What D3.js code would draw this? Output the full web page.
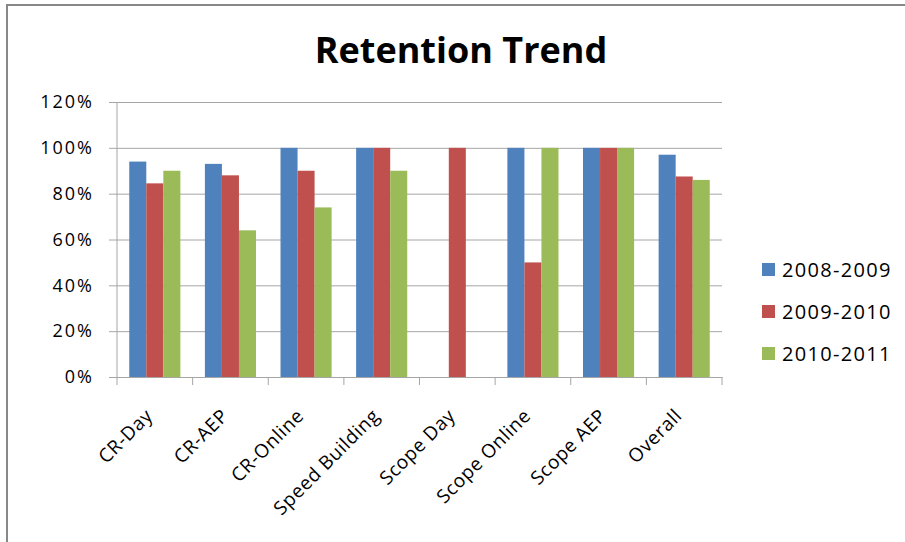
<!DOCTYPE html>
<html>
<head>
<meta charset="utf-8">
<script src="https://cdn.jsdelivr.net/npm/d3@7"></script>
<style>
  body { margin: 0; background: #fff; }
  svg { display: block; font-family: "Open Sans", sans-serif; }
</style>
</head>
<body>
<svg id="chart" width="905" height="542"></svg>
<script>
const categories = ["CR-Day", "CR-AEP", "CR-Online", "Speed Building", "Scope Day", "Scope Online", "Scope AEP", "Overall"];
const seriesNames = ["2008-2009", "2009-2010", "2010-2011"];
const values2008 = [0.94, 0.93, 1.00, 1.00, 0, 1.00, 1.00, 0.97];
const values2009 = [0.845, 0.88, 0.90, 1.00, 1.00, 0.50, 1.00, 0.875];
const values2010 = [0.90, 0.64, 0.74, 0.90, 0, 1.00, 1.00, 0.86];
const yTicks = [0, 0.2, 0.4, 0.6, 0.8, 1.0, 1.2];
const colors = ["#4F81BD", "#C0504D", "#9BBB59"];

const seriesValues = [values2008, values2009, values2010];
const rows = categories.map((c, i) => ({
  cat: c,
  vals: seriesNames.map((s, j) => ({ key: s, value: seriesValues[j][i] }))
}));

const svg = d3.select("#chart");
const margin = { top: 102, left: 117, right: 183, bottom: 165 };
const width = 905, height = 542;

// frame
svg.append("line").attr("x1", 7).attr("x2", 7).attr("y1", 5).attr("y2", height)
  .attr("stroke", "#888").attr("stroke-width", 2);
svg.append("line").attr("x1", 6).attr("x2", width).attr("y1", 5).attr("y2", 5)
  .attr("stroke", "#888").attr("stroke-width", 2);

svg.append("text")
  .attr("x", 461).attr("y", 63)
  .attr("text-anchor", "middle")
  .attr("font-size", 36).attr("font-weight", "bold")
  .text("Retention Trend");

const x0 = d3.scaleBand()
  .domain(categories)
  .range([margin.left, width - margin.right])
  .padding(0);

const x1 = d3.scaleBand()
  .domain(seriesNames)
  .range([0, x0.bandwidth()])
  .paddingInner(0)
  .paddingOuter(0.72);

const y = d3.scaleLinear()
  .domain([0, 1.2])
  .range([height - margin.bottom, margin.top]);

// gridlines + y axis
const yAxis = svg.append("g")
  .attr("transform", `translate(${margin.left},0)`)
  .call(d3.axisLeft(y).tickValues(yTicks).tickFormat(d3.format(".0%"))
    .tickSize(-(width - margin.left - margin.right)).tickPadding(23));
yAxis.select(".domain").remove();
yAxis.selectAll(".tick line").attr("stroke", "#a6a6a6").attr("x1", -8);
yAxis.selectAll(".tick text").attr("font-size", 18).attr("fill", "#000")
  .attr("letter-spacing", 2)
  .attr("font-family", "Open Sans");

svg.append("line")
  .attr("x1", margin.left).attr("x2", margin.left)
  .attr("y1", y(1.2)).attr("y2", y(0))
  .attr("stroke", "#a6a6a6");

// bars
svg.append("g")
  .selectAll("g")
  .data(rows)
  .join("g")
  .attr("transform", d => `translate(${x0(d.cat)},0)`)
  .selectAll("rect")
  .data(d => d.vals.filter(v => v.value > 0))
  .join("rect")
  .attr("x", d => x1(d.key))
  .attr("width", x1.bandwidth())
  .attr("y", d => y(d.value))
  .attr("height", d => y(0) - y(d.value))
  .attr("fill", (d, i) => colors[seriesNames.indexOf(d.key)]);

// x axis
const xAxis = svg.append("g")
  .attr("transform", `translate(0,${y(0)})`)
  .call(d3.axisBottom(x0).tickSize(0).tickFormat(""));
xAxis.select(".domain").attr("stroke", "#a6a6a6");
const bounds = [...categories.map(c => x0(c)), width - margin.right];
svg.append("g").selectAll("line")
  .data(bounds)
  .join("line")
  .attr("x1", d => d).attr("x2", d => d)
  .attr("y1", y(0)).attr("y2", y(0) + 8)
  .attr("stroke", "#a6a6a6");

svg.append("g").selectAll("text")
  .data(categories)
  .join("text")
  .attr("transform", d => `translate(${x0(d) + x0.bandwidth() / 2 - 1},${y(0) + 40}) rotate(-45)`)
  .attr("text-anchor", "end")
  .attr("font-size", 19)
  .attr("letter-spacing", 0.6)
  .text(d => d);

// legend
const legend = svg.append("g")
  .selectAll("g")
  .data(seriesNames)
  .join("g")
  .attr("transform", (d, i) => `translate(762,${263 + i * 42})`);
legend.append("rect")
  .attr("width", 13).attr("height", 13)
  .attr("fill", (d, i) => colors[i]);
legend.append("text")
  .attr("x", 20).attr("y", 7)
  .attr("dy", "0.35em")
  .attr("font-size", 20)
  .attr("letter-spacing", 1.3)
  .text(d => d);
</script>
</body>
</html>
